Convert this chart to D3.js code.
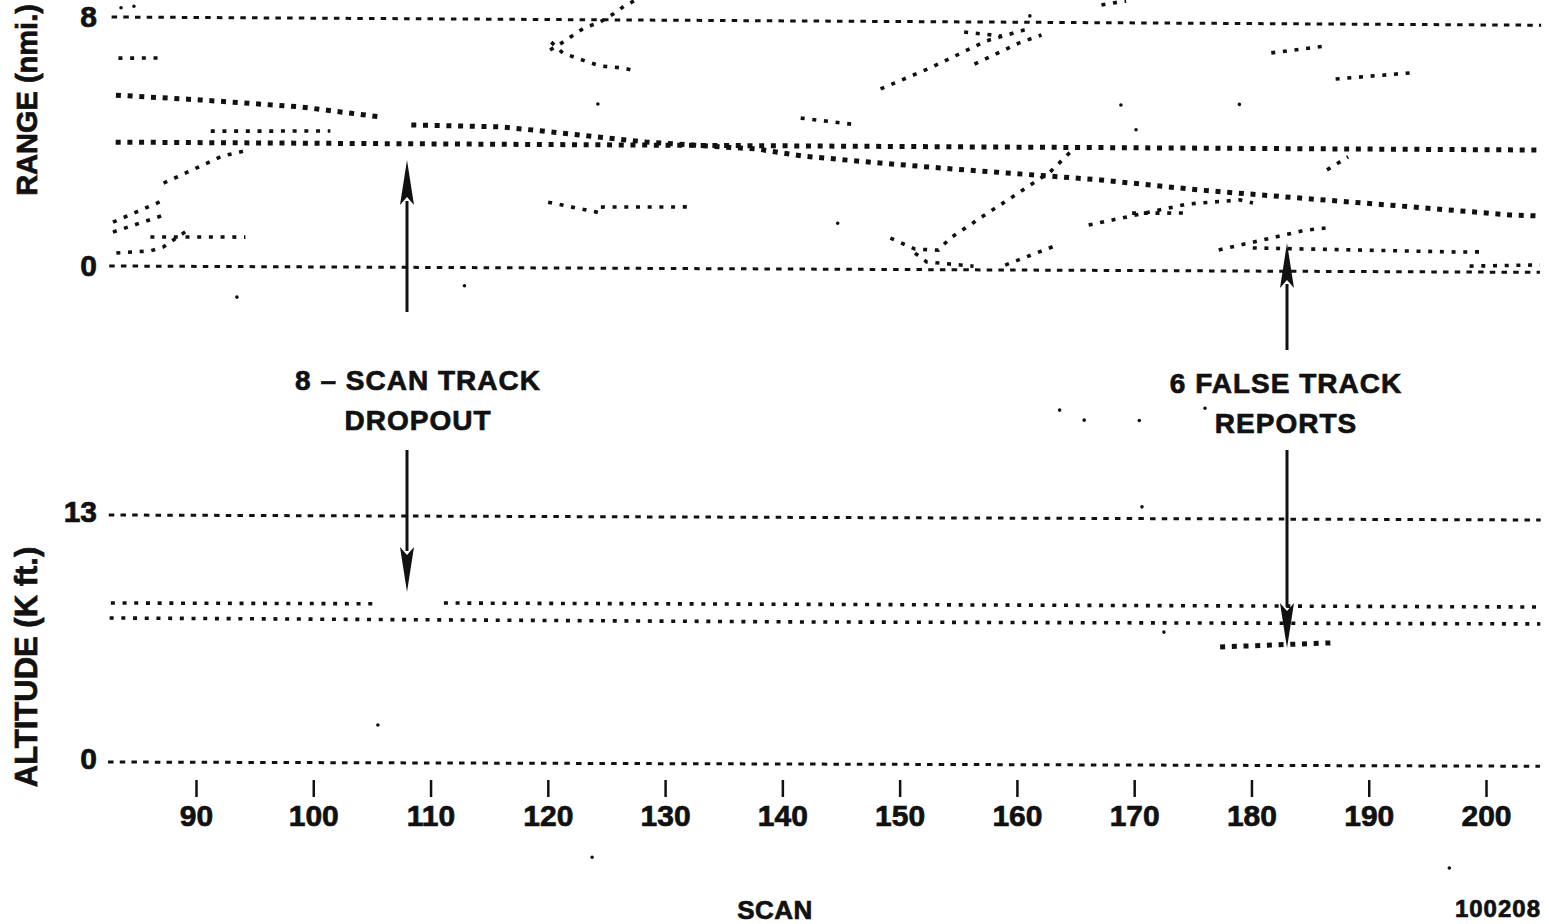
<!DOCTYPE html>
<html><head><meta charset="utf-8">
<script src="https://cdn.jsdelivr.net/npm/d3@7"></script>
<style>
html,body{margin:0;padding:0;background:#fff;}
svg{display:block;}
text{font-family:"Liberation Sans",Arial,Helvetica,sans-serif;font-weight:700;fill:#111;stroke:#111;stroke-width:0.7px;}
</style></head><body>
<svg id="c" width="1549" height="924"></svg>
<script>
// ---------- DATA ----------
const scanTicks = [90,100,110,120,130,140,150,160,170,180,190,200];
const rangeTicks = [0,8];
const altTicks = [0,13];

// Range panel (nmi) tracks: [scan, range]
const rangeRef8 = [[82.7,8.0],[204.6,7.96]];
const rangeRef0 = [[82.6,0.0],[204.6,0.02]];
const rangeTrack4 = [[83.1,3.98],[204.6,3.95]];
const rangeDescA1 = [[83.1,5.49],[90.3,5.35],[98.9,5.14],[105.7,4.83]];
const rangeDescA2 = [[108.3,4.58],[115.9,4.53],[120.2,4.38],[124.2,4.22],[128.3,4.07],[133.0,3.96],[137.8,3.86],[141.7,3.64],[147.3,3.46],[153.4,3.28],[159.1,3.13],[167.1,2.92],[175.6,2.61],[184.1,2.37],[192.7,2.13],[202.0,1.86],[204.6,1.83]];
const rangeFaint = [[91.2,4.35],[101.4,4.37]];
const rangeB1 = [[82.9,1.09],[87.2,1.64]];
const rangeB2 = [[82.9,1.41],[87.2,2.12]];
const rangeB3 = [[87.2,2.67],[92.2,3.55],[94.2,3.73]];
const rangeB4 = [[86.1,0.94],[94.2,0.95]];
const rangeB5 = [[83.2,0.42],[86.1,0.49],[87.2,0.62],[89.3,1.17]];
const rangeTopLeft = [[83.3,6.68],[86.7,6.69]];
const rangeRise120 = [[120.1,7.01],[121.1,7.24],[123.1,7.75],[124.2,7.88],[125.5,8.18],[126.4,8.43],[127.4,8.63]];
const rangeFall120 = [[120.2,7.26],[121.2,6.91],[123.1,6.66],[124.4,6.50],[126.4,6.44],[127.4,6.35]];
const rangeShort141 = [[141.5,4.86],[146.4,4.65]];
const rangeRiseC = [[148.3,5.81],[152.5,6.49],[157.3,7.37],[161.1,7.79]];
const rangeRiseD = [[156.3,6.62],[160.1,7.31],[162.0,7.57]];
const rangeCross = [[155.4,7.65],[158.6,7.53]];
const rangeTopExit = [[167.1,8.54],[168.1,8.61],[169.2,8.67]];
const rangeSeg181 = [[181.6,7.03],[186.3,7.26]];
const rangeSeg187 = [[187.1,6.20],[193.5,6.41]];
const rangeLow120 = [[120.0,2.12],[124.5,1.78]];
const rangeLow124 = [[124.5,1.97],[132.3,1.99]];
const rangeV = [[149.2,1.02],[151.3,0.67],[153.3,0.64],[154.3,1.03],[157.1,1.74],[160.1,2.49],[162.8,3.17],[164.5,3.81]];
const rangeVLow = [[151.3,0.54],[152.3,0.26],[156.3,0.13]];
const rangeRise159 = [[159.0,0.17],[163.6,0.85]];
const rangeRise166 = [[166.1,1.47],[174.5,2.16],[179.0,2.30],[180.1,2.20]];
const rangeRow170 = [[169.8,1.86],[174.5,1.87]];
const rangeRise186 = [[186.4,3.28],[188.2,3.70]];
const rangeFalse = [[177.2,0.69],[184.6,1.34],[186.3,1.41]];
const rangeSeg180 = [[180.1,0.76],[197.8,0.66],[199.5,0.67]];
const rangeNear0 = [[198.6,0.21],[204.6,0.26]];
const rangeStray = [[93.5,-0.98],[112.9,-0.58],[124.2,5.28],[168.8,5.33],[170.1,4.54],[178.9,5.37],[144.7,1.49],[161.0,8.18],[163.7,-4.48],[165.8,-4.8],[170.5,-4.8],[176.1,-4.4],[83.5,8.3],[84.6,8.35]];

// Altitude panel (K ft) tracks: [scan, altitude]
const altRef13 = [[82.5,13.0],[204.6,12.96]];
const altRef0 = [[82.5,0.0],[204.6,0.0]];
const altUpper1 = [[82.7,8.37],[105.4,8.37]];
const altUpper2 = [[111.1,8.42],[204.6,8.38]];
const altLower = [[82.6,7.58],[141.5,7.48],[204.6,7.49]];
const altFalse = [[177.3,6.23],[186.7,6.46]];
const altStray = [[105.5,1.99],[170.6,13.59],[172.5,7.0],[123.8,-4.94],[196.9,-5.37]];

// ---------- LAYOUT ----------
const svg = d3.select("#c");
const x = d3.scaleLinear().domain([90,200]).range([196,1486]);
const yR = d3.scaleLinear().domain([0,8]).range([266,17]);
const yA = d3.scaleLinear().domain([0,13]).range([762,515]);

const gR = svg.append("g").attr("transform","rotate(0.28,110,266)");
const gA = svg.append("g").attr("transform","rotate(0.17,110,762)");

function track(g, y, data, opt){
  const line = d3.line().x(d=>x(d[0])).y(d=>y(d[1]));
  g.append("path").attr("d", line(data))
    .attr("fill","none").attr("stroke","#111")
    .attr("stroke-width", opt.w)
    .attr("stroke-dasharray", opt.dash)
    .attr("stroke-linecap","butt");
}
const refStyle = {w:3, dash:"5.5 6.2"};
const mainStyle = {w:5, dash:"5 6.7"};
const lightStyle = {w:3.6, dash:"4 7.7"};

track(gR,yR,rangeRef8,refStyle);
track(gR,yR,rangeRef0,refStyle);
track(gR,yR,rangeTrack4,mainStyle);
[rangeDescA1,rangeDescA2].forEach(d=>track(gR,yR,d,mainStyle));
[rangeFaint,rangeB1,rangeB2,rangeB3,rangeB4,rangeB5,rangeTopLeft,rangeRise120,rangeFall120,
 rangeShort141,rangeRiseC,rangeRiseD,rangeCross,rangeTopExit,rangeSeg181,rangeSeg187,rangeLow120,
 rangeLow124,rangeV,rangeVLow,rangeRise159,rangeRise166,rangeRow170,rangeRise186,rangeFalse,
 rangeSeg180,rangeNear0].forEach(d=>track(gR,yR,d,lightStyle));

gR.selectAll("circle.s").data(rangeStray).join("circle").attr("class","s")
  .attr("cx",d=>x(d[0])).attr("cy",d=>yR(d[1])).attr("r",1.8).attr("fill","#111");

track(gA,yA,altRef13,refStyle);
track(gA,yA,altRef0,refStyle);
track(gA,yA,altUpper1,lightStyle);
track(gA,yA,altUpper2,lightStyle);
track(gA,yA,altLower,lightStyle);
track(gA,yA,altFalse,mainStyle);
gA.selectAll("circle.s").data(altStray).join("circle").attr("class","s")
  .attr("cx",d=>x(d[0])).attr("cy",d=>yA(d[1])).attr("r",1.8).attr("fill","#111");

// ---------- AXES ----------
const fontSet = sel => sel.style("font-size","30px").style("font-family","Liberation Sans, Arial, sans-serif")
  .style("font-weight","700").attr("fill","#111").attr("stroke","#111").attr("stroke-width",0.8);
const xAxis = d3.axisBottom(x).tickValues(scanTicks).tickSize(17).tickPadding(8).tickFormat(d3.format("d"));
const gx = svg.append("g").attr("transform","translate(0,780)").call(xAxis);
gx.select(".domain").remove();
gx.selectAll(".tick line").attr("stroke","#111").attr("stroke-width",2.5);
fontSet(gx.selectAll(".tick text"));

const yRA = d3.axisLeft(yR).tickValues(rangeTicks).tickSize(0).tickPadding(0).tickFormat(d3.format("d"));
const gyr = svg.append("g").attr("transform","translate(97,0)").call(yRA);
gyr.select(".domain").remove();
fontSet(gyr.selectAll(".tick text")).attr("dy","0.32em");

const yAA = d3.axisLeft(yA).tickValues(altTicks).tickSize(0).tickPadding(0).tickFormat(d3.format("d"));
const gya = svg.append("g").attr("transform","translate(97,-3)").call(yAA);
gya.select(".domain").remove();
fontSet(gya.selectAll(".tick text")).attr("dy","0.32em");

// axis titles
svg.append("text").attr("transform","translate(37,100) rotate(-90)").attr("text-anchor","middle")
  .style("font-size","29px").text("RANGE (nmi.)");
svg.append("text").attr("transform","translate(37,667) rotate(-90)").attr("text-anchor","middle")
  .style("font-size","31px").text("ALTITUDE (K ft.)");
svg.append("text").attr("x",775).attr("y",919).attr("text-anchor","middle").style("font-size","26px").style("letter-spacing","0.5px").text("SCAN");
svg.append("text").attr("x",1541).attr("y",917).attr("text-anchor","end").style("font-size","24px").style("letter-spacing","1px").text("100208");

// ---------- ANNOTATIONS ----------
function ann(cx, lines, y0){
  lines.forEach((t,i)=>svg.append("text").attr("x",cx).attr("y",y0+i*40).attr("text-anchor","middle")
    .style("font-size","28px").style("letter-spacing","1px").text(t));
}
ann(418, ["8 – SCAN TRACK","DROPOUT"], 390);
ann(1286, ["6 FALSE TRACK","REPORTS"], 393);

function arrow(xc, yFrom, yTip){
  const dir = yTip < yFrom ? -1 : 1;
  const headLen = 45, half = 7;
  svg.append("line").attr("x1",xc).attr("x2",xc).attr("y1",yFrom).attr("y2",yTip - dir*headLen+dir*4)
    .attr("stroke","#111").attr("stroke-width",3);
  svg.append("path").attr("d",`M${xc},${yTip} L${xc-half},${yTip-dir*headLen} L${xc},${yTip-dir*(headLen-8)} L${xc+half},${yTip-dir*headLen} Z`)
    .attr("fill","#111");
}
arrow(407, 312, 160);
arrow(407, 450, 592);
arrow(1287, 350, 243);
arrow(1287, 450, 648);
</script>
</body></html>
